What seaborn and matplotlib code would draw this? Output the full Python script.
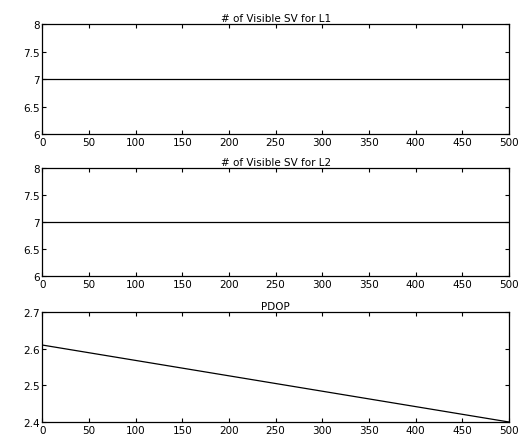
import matplotlib
matplotlib.use("Agg")
import matplotlib.pyplot as plt
import seaborn as sns
import pandas as pd

# epoch index
epochs = [0, 50, 100, 150, 200, 250, 300, 350, 400, 450, 500]
# number of visible satellites per frequency
sv_l1 = [7, 7, 7, 7, 7, 7, 7, 7, 7, 7, 7]
sv_l2 = [7, 7, 7, 7, 7, 7, 7, 7, 7, 7, 7]
# position dilution of precision
pdop = [2.61, 2.589, 2.568, 2.547, 2.526, 2.505, 2.484, 2.463, 2.442, 2.421, 2.40]

titles = ["# of Visible SV for L1", "# of Visible SV for L2", "PDOP"]
x_ticks = [0, 50, 100, 150, 200, 250, 300, 350, 400, 450, 500]
sv_ticks = [6, 6.5, 7, 7.5, 8]
sv_tick_labels = ["6", "6.5", "7", "7.5", "8"]
pdop_ticks = [2.4, 2.5, 2.6, 2.7]
pdop_tick_labels = ["2.4", "2.5", "2.6", "2.7"]

sns.set_theme(style="white")
plt.rcParams["font.family"] = ["DejaVu Sans"]
plt.rcParams["text.color"] = "black"

fig = plt.figure(figsize=(5.27, 4.39), dpi=100)
left, width = 0.080, 0.886
boxes = [(0.6925, 0.2505), (0.369, 0.246), (0.0364, 0.2506)]

series = [sv_l1, sv_l2, pdop]
ylims = [(6, 8), (6, 8), (2.4, 2.7)]
yticks = [(sv_ticks, sv_tick_labels), (sv_ticks, sv_tick_labels),
          (pdop_ticks, pdop_tick_labels)]

for (bottom, height), values, title, ylim, (yt, ytl) in zip(
        boxes, series, titles, ylims, yticks):
    ax = fig.add_axes([left, bottom, width, height])
    df = pd.DataFrame({"epoch": epochs, "value": values})
    sns.lineplot(data=df, x="epoch", y="value", ax=ax, color="black",
                 linewidth=0.9)
    ax.set_xlim(0, 500)
    ax.set_ylim(*ylim)
    ax.set_xticks(x_ticks)
    ax.set_xticklabels([str(t) for t in x_ticks])
    ax.set_yticks(yt)
    ax.set_yticklabels(ytl)
    ax.set_xlabel("")
    ax.set_ylabel("")
    ax.set_title(title, fontsize=7.5, pad=2, color="black")
    ax.tick_params(direction="in", length=3, width=0.8, labelsize=7.5,
                   top=True, right=True, bottom=True, left=True,
                   colors="black", pad=2)
    for spine in ax.spines.values():
        spine.set_visible(True)
        spine.set_color("black")
        spine.set_linewidth(0.9)

fig.savefig("out.png", dpi=100, facecolor="white")
